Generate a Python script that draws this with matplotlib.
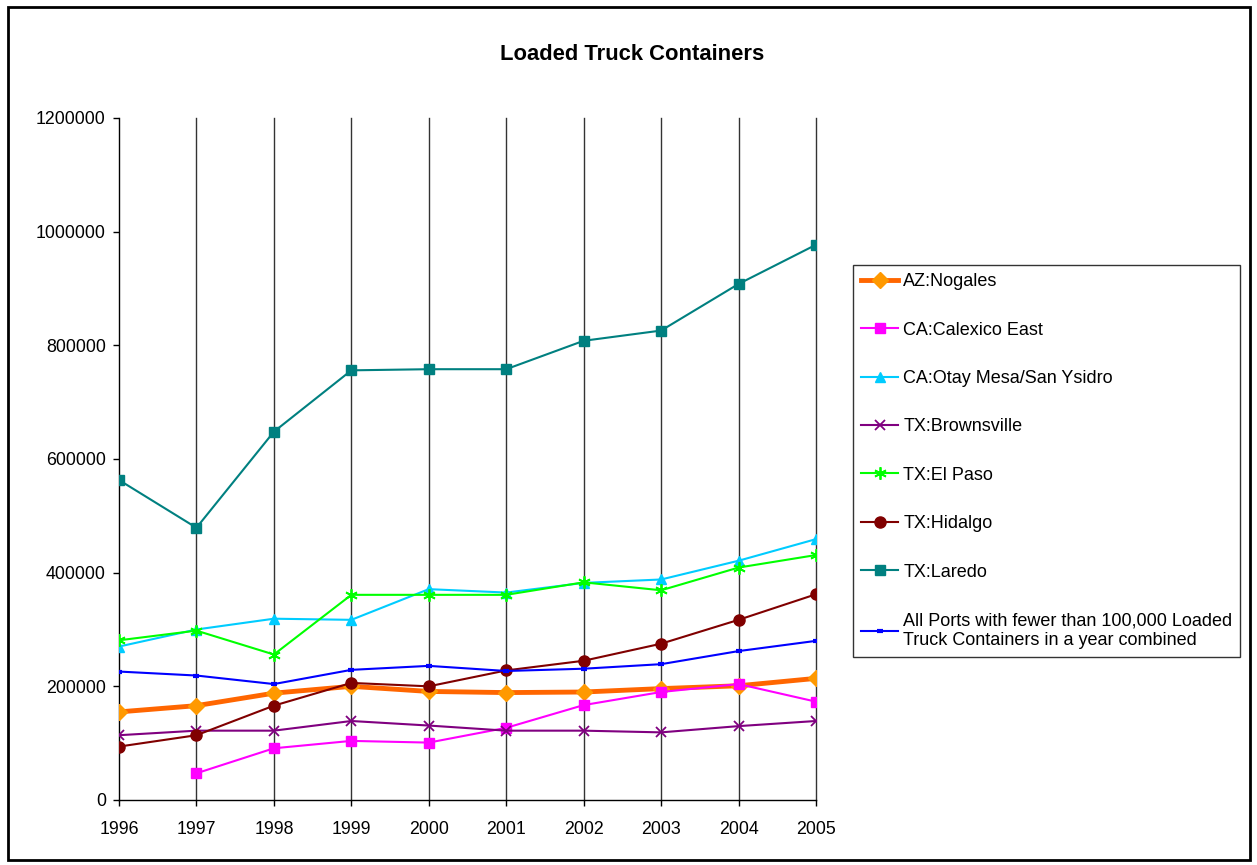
import numpy as np
import matplotlib.pyplot as plt
from matplotlib.patches import Rectangle
from matplotlib.ticker import FuncFormatter

plt.rcParams['font.family'] = ['Liberation Sans', 'DejaVu Sans']

years = [1996, 1997, 1998, 1999, 2000, 2001, 2002, 2003, 2004, 2005]

nogales = [155000, 166000, 188000, 200000, 191000, 189000, 190000, 196000, 201000, 214000]
calexico = [np.nan, 47000, 91000, 104000, 101000, 127000, 167000, 190000, 204000, 173000]
otay = [270000, 300000, 319000, 317000, 371000, 365000, 382000, 388000, 421000, 459000]
brownsville = [114000, 122000, 122000, 139000, 131000, 122000, 122000, 119000, 130000, 139000]
el_paso = [281000, 298000, 256000, 361000, 361000, 361000, 383000, 369000, 409000, 431000]
hidalgo = [94000, 114000, 166000, 206000, 200000, 228000, 245000, 275000, 317000, 362000]
laredo = [563000, 479000, 648000, 756000, 758000, 758000, 808000, 826000, 908000, 977000]
other_ports = [226000, 219000, 204000, 229000, 236000, 227000, 231000, 239000, 262000, 280000]

fig = plt.figure(figsize=(12.57, 8.65), dpi=100)
W, H = 1257, 865
ax = fig.add_axes([119 / W, 1 - 800 / H, (816 - 119) / W, (800 - 118) / H])

# outer border of the chart
fig.patches.append(Rectangle((8 / W, 5 / H), 1242 / W, 853 / H, transform=fig.transFigure,
                             fill=False, edgecolor='black', linewidth=2))

ax.plot(years, nogales, color='#FF6600', lw=3.5, marker='D', ms=8,
        mfc='#FF9900', mec='#FF9900', label='AZ:Nogales', zorder=4)
ax.plot(years, calexico, color='#FF00FF', lw=1.5, marker='s', ms=7,
        label='CA:Calexico East', zorder=4)
ax.plot(years, otay, color='#00CCFF', lw=1.5, marker='^', ms=7,
        label='CA:Otay Mesa/San Ysidro', zorder=4)
ax.plot(years, brownsville, color='#800080', lw=1.5, marker='x', ms=7, mew=1.3,
        label='TX:Brownsville', zorder=4)
ax.plot(years, el_paso, color='#00FF00', lw=1.5, marker=(6, 2, 0), ms=9, mew=1.3,
        label='TX:El Paso', zorder=4)
ax.plot(years, hidalgo, color='#800000', lw=1.5, marker='o', ms=8,
        label='TX:Hidalgo', zorder=4)
ax.plot(years, laredo, color='#008080', lw=1.5, marker='s', ms=7,
        label='TX:Laredo', zorder=4)
ax.plot(years, other_ports, color='#0000FF', lw=1.5, marker='_', ms=5, mew=3,
        label='All Ports with fewer than 100,000 Loaded\nTruck Containers in a year combined',
        zorder=4)

ax.set_xlim(1996, 2005)
ax.set_ylim(0, 1200000)
ax.set_xticks(years)
ax.set_yticks(range(0, 1200001, 200000))
ax.yaxis.set_major_formatter(FuncFormatter(lambda v, p: '%d' % v))
ax.tick_params(axis='both', labelsize=12.8, direction='out', length=4.5, width=1, color='black')
ax.tick_params(axis='x', pad=10.5)
ax.tick_params(axis='y', pad=5)
# vertical gridlines, one per year (last one sits on the right edge)
for yr in years[1:]:
    ax.axvline(yr, color='#333333', lw=1, zorder=1, clip_on=False)
for s in ['top', 'right']:
    ax.spines[s].set_visible(False)
for s in ['left', 'bottom']:
    ax.spines[s].set_color('black')
    ax.spines[s].set_linewidth(1)

fig.text(632 / W, 1 - 54 / H, 'Loaded Truck Containers', ha='center', va='center',
         fontsize=15.8, fontweight='bold')

leg = fig.legend(loc='upper left', bbox_to_anchor=(853 / W, 1 - 265 / H),
                 fontsize=13, frameon=True, fancybox=False, edgecolor='black',
                 labelspacing=1.74, handlelength=2.05, handletextpad=0.28,
                 borderpad=0.45, borderaxespad=0)
leg.get_frame().set_linewidth(1)

fig.savefig('out.png', dpi=100)
